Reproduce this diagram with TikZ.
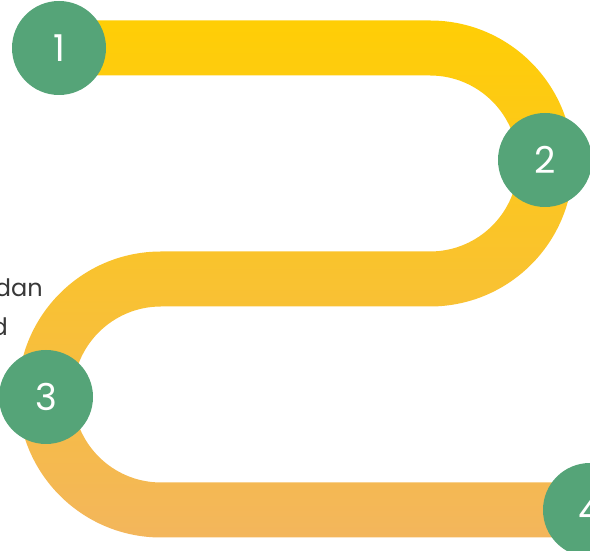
\documentclass[tikz,border=0pt]{standalone}
\usepackage{fontspec}
\setmainfont{Poppins}
\usepackage{tikz}
\usetikzlibrary{positioning}
\definecolor{stopgreen}{HTML}{55A478}
\definecolor{roadtop}{HTML}{FFCE05}
\definecolor{roadmid}{HTML}{F8C045}
\definecolor{roadbot}{HTML}{F3B65C}
\definecolor{notegrey}{HTML}{383838}

\begin{document}
\begin{tikzpicture}[x=1pt, y=1pt, station/.style = {circle, fill=stopgreen, minimum size=94pt, inner sep=0pt, text=white, font=\fontsize{37}{40}\selectfont}, note/.style = {inner sep=0pt, text=notegrey, font=\fontsize{24}{30}\selectfont}]
    \clip (0,0) rectangle (590,551);
    % the road
    \shade[top color=roadtop, middle color=roadmid, bottom color=roadbot]
        (59,530.5) -- (430,530.5) arc[start angle=90, end angle=-90, radius=143]
        -- (161,244.5) arc[start angle=90, end angle=270, radius=88]
        -- (620,68.5) -- (620,13.5)
        -- (161,13.5) arc[start angle=270, end angle=90, radius=143]
        -- (430,299.5) arc[start angle=-90, end angle=90, radius=88]
        -- (59,475.5) -- cycle;
    \node[station] (P1) at (59,503) {1};
    \node[station] (P2) at (545,391) {2};
    \node[station] (P3) at (46,154) {3};
    \node[station] (P4) at (590,41) {4};
    \node[note, anchor=base east] (dan) at (43,254) {dan};
    \node[note, anchor=base east] (d) at (8,215) {d};
\end{tikzpicture}
\end{document}
